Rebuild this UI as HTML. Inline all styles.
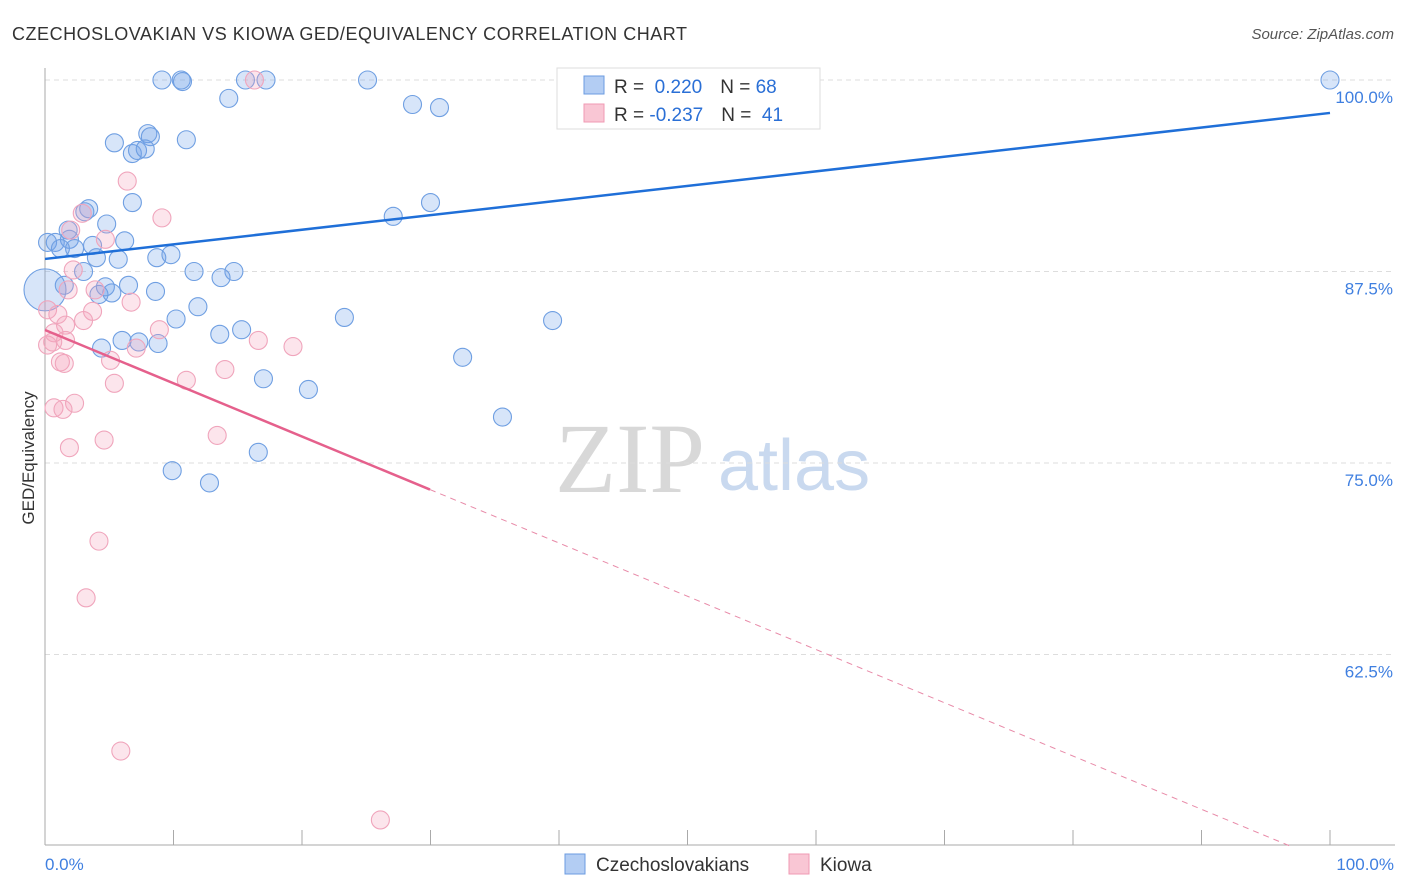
<!DOCTYPE html>
<html><head><meta charset="utf-8"><style>
body{margin:0;background:#fff;font-family:"Liberation Sans",sans-serif;}
svg{display:block}
</style></head><body>
<svg id="chart" width="1406" height="892">
<text x="12" y="40" font-size="18" fill="#333" textLength="675">CZECHOSLOVAKIAN VS KIOWA GED/EQUIVALENCY CORRELATION CHART</text>
<text x="1394" y="39" font-size="15" fill="#555" font-style="italic" text-anchor="end">Source: ZipAtlas.com</text>
<text x="555" y="492" font-size="100" fill="#d8d8d8" font-family="Liberation Serif,serif">ZIP</text>
<text x="718" y="490" font-size="72" fill="#c9d9ef">atlas</text>
<g id="grid"></g>
<g id="marks"></g>
<text transform="translate(34,458) rotate(-90)" font-size="17" fill="#333" text-anchor="middle">GED/Equivalency</text>
<g>
<rect x="557" y="68" width="263" height="61" fill="#fff" stroke="#ddd"/>
<rect x="584" y="76" width="20" height="18" fill="#b3cdf3" stroke="#6b9be0"/>
<rect x="584" y="104" width="20" height="18" fill="#f9c6d4" stroke="#f09ab3"/>
<text x="614" y="93" font-size="19" fill="#333">R = <tspan fill="#2a6fd6">&#160;0.220</tspan><tspan dx="18">N = </tspan><tspan fill="#2a6fd6">68</tspan></text>
<text x="614" y="121" font-size="19" fill="#333">R = <tspan fill="#2a6fd6">-0.237</tspan><tspan dx="18">N = </tspan><tspan fill="#2a6fd6">&#160;41</tspan></text>
</g>
<g>
<rect x="565" y="854" width="20" height="20" fill="#b3cdf3" stroke="#6b9be0"/>
<text x="596" y="871" font-size="19" fill="#333">Czechoslovakians</text>
<rect x="789" y="854" width="20" height="20" fill="#f9c6d4" stroke="#f09ab3"/>
<text x="820" y="871" font-size="19" fill="#333">Kiowa</text>
</g>
</svg>
<script>
const yTicks=[100,87.5,75,62.5];
const yTickLabels=["100.0%","87.5%","75.0%","62.5%"];
const xTickLabels=["0.0%","100.0%"];
const blueX=[9.1,10.6,10.7,15.6,17.2,25.1,100,14.3,28.6,30.7,5.4,11.0,8.0,8.2,6.8,7.2,7.8,6.8,3.4,3.1,4.8,1.8,27.1,30.0,0.2,0.8,1.9,2.3,3.7,6.2,1.2,4.0,5.7,8.7,9.8,11.6,14.7,13.7,3.0,8.6,1.5,4.2,5.2,6.5,4.7,11.9,10.2,15.3,13.6,23.3,39.5,6.0,4.4,7.3,8.8,32.5,17.0,20.5,35.6,9.9,12.8,16.6,0.0];
const blueY=[100,100,99.9,100,100,100,100,98.8,98.4,98.2,95.9,96.1,96.5,96.3,95.2,95.4,95.5,92.0,91.6,91.4,90.6,90.2,91.1,92.0,89.4,89.4,89.6,89.0,89.2,89.5,89.0,88.4,88.3,88.4,88.6,87.5,87.5,87.1,87.5,86.2,86.6,86.0,86.1,86.6,86.5,85.2,84.4,83.7,83.4,84.5,84.3,83.0,82.5,82.9,82.8,81.9,80.5,79.8,78.0,74.5,73.7,75.7,86.3];
const pinkX=[16.3,6.4,9.1,2.9,2.0,4.7,2.2,1.8,3.9,0.2,1.0,3.7,1.6,3.0,8.9,6.7,0.7,1.6,0.6,0.2,16.6,19.3,7.1,5.1,1.2,1.5,14.0,11.0,5.4,2.3,0.7,1.4,13.4,4.6,1.9,4.2,3.2,5.9,26.1];
const pinkY=[100,93.4,91.0,91.3,90.2,89.6,87.6,86.3,86.3,85.0,84.7,84.9,84.0,84.3,83.7,85.5,83.5,83.0,82.9,82.7,83.0,82.6,82.5,81.7,81.6,81.5,81.1,80.4,80.2,78.9,78.6,78.5,76.8,76.5,76.0,69.9,66.2,56.2,51.7];
const blueLine=[88.32,97.85];
const pinkLine=[83.68,-0.3476];
const pinkSolidEnd=29.96;
const X=v=>45+v*12.85, Y=v=>80+(100-v)*15.32;
const NS="http://www.w3.org/2000/svg";
function mk(t,a,p){const e=document.createElementNS(NS,t);for(const k in a)e.setAttribute(k,a[k]);p.appendChild(e);return e;}
const g=document.getElementById('grid'),m=document.getElementById('marks');
yTicks.forEach((t,i)=>{
 const l=mk('line',{x1:45,x2:1395,y1:Y(t),y2:Y(t),stroke:'#ddd','stroke-dasharray':'5,4'},g);
 
 
 const tx=mk('text',{x:1393,y:Y(t)+23,'font-size':17,fill:'#3f7fe0','text-anchor':'end'},g);
 tx.textContent=yTickLabels[i];
 
 
});
mk('line',{x1:45,x2:45,y1:68,y2:845,stroke:'#aaa'},g);
mk('line',{x1:45,x2:1395,y1:845,y2:845,stroke:'#aaa'},g);
for(let i=0;i<=10;i++){const tk=mk('line',{x1:X(i*10),x2:X(i*10),y1:830,y2:845,stroke:'#aaa'},g);
 
 }
[[0,'start',45],[100,'end',1394]].forEach((d,i)=>{const tx=mk('text',{x:d[2],y:870,'font-size':17,fill:'#3f7fe0','text-anchor':d[1]},g);
 tx.textContent=xTickLabels[i];
 
 });
blueX.forEach((x,i)=>{const c=mk('circle',{cx:X(x),cy:Y(blueY[i]),r:i==blueX.length-1?21:9,fill:'rgba(110,160,235,0.28)',stroke:'#6f9fe2','stroke-width':1.1},m);
 
 });
pinkX.forEach((x,i)=>{const c=mk('circle',{cx:X(x),cy:Y(pinkY[i]),r:9,fill:'rgba(245,160,185,0.28)',stroke:'#f0a5bc','stroke-width':1.1},m);
 
 });
const bl=mk('line',{x1:X(0),y1:Y(blueLine[0]),x2:X(100),y2:Y(blueLine[1]),stroke:'#1f6fd8','stroke-width':2.5},m);


const pe=(50-pinkLine[0])/pinkLine[1];
const pl=mk('line',{x1:X(0),y1:Y(pinkLine[0]),x2:X(pinkSolidEnd),y2:Y(pinkLine[0]+pinkLine[1]*pinkSolidEnd),stroke:'#e5608c','stroke-width':2.5},m);


const pd=mk('line',{x1:X(pinkSolidEnd),y1:Y(pinkLine[0]+pinkLine[1]*pinkSolidEnd),x2:X(pe),y2:Y(50),stroke:'#e88aa8','stroke-width':1,'stroke-dasharray':'6,5'},m);


</script>
</body></html>
